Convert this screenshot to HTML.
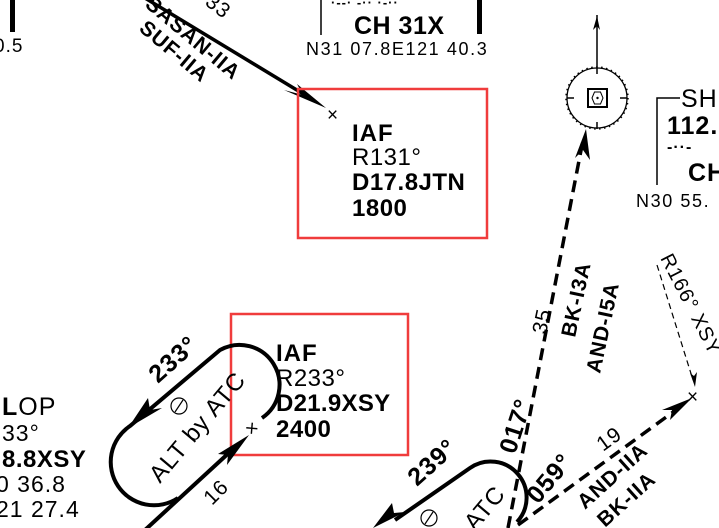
<!DOCTYPE html>
<html><head><meta charset="utf-8"><style>
html,body{margin:0;padding:0;background:#fff;}
svg{display:block;font-family:"Liberation Sans",sans-serif;letter-spacing:1px;}
</style></head><body>
<svg width="719" height="528" viewBox="0 0 719 528" xmlns="http://www.w3.org/2000/svg">
<rect width="719" height="528" fill="#fff"/>
<rect x="10" y="0" width="5" height="32" fill="#000"/>
<text x="-6" y="52" font-size="19">0.5</text>
<line x1="321" y1="0" x2="321" y2="35" stroke="#000" stroke-width="1.5"/>
<rect x="477" y="0" width="5" height="34" fill="#000"/>
<text x="331" y="7" font-size="13" font-weight="bold">·--· -·· ·-··</text>
<text x="354" y="34" font-size="25" font-weight="bold" letter-spacing="0.5">CH 31X</text>
<text x="306" y="55" font-size="18" letter-spacing="1.6">N31 07.8E121 40.3</text>
<line x1="140" y1="-5" x2="310" y2="98" stroke="#000" stroke-width="3.5"/>
<polygon points="326,108 297,84 303,95 284,90" fill="#000"/>
<text transform="translate(204,4) rotate(38)" font-size="21">33</text>
<text transform="translate(144,6) rotate(40)" font-size="21" font-weight="bold">SASAN-IIA</text>
<text transform="translate(138,30) rotate(40)" font-size="21" font-weight="bold">SUF-IIA</text>
<rect x="298" y="89" width="189" height="149" fill="none" stroke="#f03c3c" stroke-width="2.5"/>
<text x="327" y="121" font-size="19">×</text>
<text x="352" y="141" font-size="24" font-weight="bold">IAF</text>
<text x="352" y="165" font-size="24" letter-spacing="0.5">R131°</text>
<text x="352" y="190" font-size="24" font-weight="bold" letter-spacing="0.5">D17.8JTN</text>
<text x="352" y="216" font-size="24" font-weight="bold" letter-spacing="0.5">1800</text>
<line x1="597" y1="15" x2="597" y2="67" stroke="#000" stroke-width="1.5"/>
<polygon points="597,16 593,30 597,26 600,30" fill="#000"/>
<circle cx="597" cy="98" r="31" fill="none" stroke="#000" stroke-width="1.5" stroke-dasharray="1.5 3.5"/>
<circle cx="597" cy="98" r="30" fill="none" stroke="#000" stroke-width="1.3"/>
<line x1="597" y1="67" x2="597" y2="74" stroke="#000" stroke-width="1.5"/>
<line x1="597" y1="122" x2="597" y2="129" stroke="#000" stroke-width="1.5"/>
<line x1="567" y1="98" x2="574" y2="98" stroke="#000" stroke-width="1.5"/>
<line x1="620" y1="98" x2="627" y2="98" stroke="#000" stroke-width="1.5"/>
<rect x="588" y="89" width="19" height="18" fill="none" stroke="#000" stroke-width="2"/>
<polygon points="592,98 594.5,92 600.5,92 603,98 600.5,104 594.5,104" fill="none" stroke="#000" stroke-width="1"/>
<circle cx="597.5" cy="98" r="1.2" fill="#000"/>
<polyline points="680,98 657,98 657,185" fill="none" stroke="#000" stroke-width="1.5"/>
<text x="681" y="107" font-size="25">SHU</text>
<text x="667" y="134" font-size="25" font-weight="bold">112.</text>
<text x="667" y="152" font-size="16" font-weight="bold">-··-</text>
<text x="688" y="181" font-size="25" font-weight="bold">CH</text>
<text x="636" y="207" font-size="18" letter-spacing="1.6">N30 55.</text>
<line x1="508" y1="528" x2="583" y2="140" stroke="#000" stroke-width="3.5" stroke-dasharray="12 7"/>
<polygon points="586,129 575,158 583,150 590,160" fill="#000"/>
<text transform="translate(546,335) rotate(-78)" font-size="21">35</text>
<text transform="translate(575,338) rotate(-78)" font-size="21" font-weight="bold">BK-I3A</text>
<text transform="translate(600,374) rotate(-78)" font-size="21" font-weight="bold">AND-I5A</text>
<text transform="translate(660,258) rotate(63)" font-size="20">R166° XSY</text>
<line x1="657" y1="265" x2="693" y2="380" stroke="#000" stroke-width="1.2" stroke-dasharray="6 4"/>
<polygon points="695,387 690,373 694,376 697,372" fill="#000"/>
<text x="687" y="403" font-size="19">×</text>
<line x1="518" y1="525" x2="680" y2="407" stroke="#000" stroke-width="3.5" stroke-dasharray="12 7"/>
<polygon points="692,398 662,410 672,410 670,420" fill="#000"/>
<text transform="translate(603,452) rotate(-36)" font-size="21">19</text>
<text transform="translate(585,510) rotate(-42)" font-size="21" font-weight="bold">AND-IIA</text>
<text transform="translate(605,528) rotate(-42)" font-size="21" font-weight="bold">BK-IIA</text>
<rect x="231" y="314" width="177" height="141" fill="none" stroke="#f03c3c" stroke-width="2.5"/>
<text x="276" y="361" font-size="24" font-weight="bold">IAF</text>
<text x="276" y="386" font-size="24" letter-spacing="0.5">R233°</text>
<text x="276" y="411" font-size="24" font-weight="bold" letter-spacing="0.3">D21.9XSY</text>
<text x="276" y="437" font-size="24" font-weight="bold" letter-spacing="0.5">2400</text>
<path d="M262,418 A40,40 0 0 0 220,350 L130,426 A40,40 0 0 0 178,498" fill="none" stroke="#000" stroke-width="4"/>
<polygon points="128,428 148,398 150,410 162,408" fill="#000"/>
<line x1="145" y1="530" x2="232" y2="450" stroke="#000" stroke-width="4"/>
<polygon points="249,435 218,454 228,455 227,465" fill="#000"/>
<text x="245" y="433" font-size="20" transform="rotate(-40 254 426)">×</text>
<text transform="translate(158,384) rotate(-42)" font-size="25" font-weight="bold">233°</text>
<circle cx="179" cy="406" r="8" fill="none" stroke="#000" stroke-width="1.2"/>
<line x1="175" y1="412" x2="183" y2="400" stroke="#000" stroke-width="1.2"/>
<text transform="translate(160,484) rotate(-50)" font-size="24">ALT by ATC</text>
<text transform="translate(212,506) rotate(-45)" font-size="21">16</text>
<text x="2" y="415" font-size="25"><tspan font-weight="bold">L</tspan>OP</text>
<text x="2" y="441" font-size="23">33°</text>
<text x="2" y="467" font-size="24" font-weight="bold" letter-spacing="0.5">8.8XSY</text>
<text x="-4" y="492" font-size="23">0  36.8</text>
<text x="-4" y="517" font-size="23">21 27.4</text>
<text x="-2" y="544" font-size="23" font-weight="bold">F</text>
<path d="M395,520 L470,468 A36,36 0 0 1 517,522" fill="none" stroke="#000" stroke-width="4"/>
<polygon points="373,528 392,503 394,513 405,512" fill="#000"/>
<text transform="translate(417,487) rotate(-42)" font-size="25" font-weight="bold">239°</text>
<circle cx="429" cy="518" r="8" fill="none" stroke="#000" stroke-width="1.2"/>
<line x1="425" y1="524" x2="433" y2="512" stroke="#000" stroke-width="1.2"/>
<text transform="translate(475,532) rotate(-50)" font-size="24">ATC</text>
<text transform="translate(515,455) rotate(-72)" font-size="25" font-weight="bold">017°</text>
<text transform="translate(538,505) rotate(-50)" font-size="25" font-weight="bold">059°</text>
</svg>
</body></html>
